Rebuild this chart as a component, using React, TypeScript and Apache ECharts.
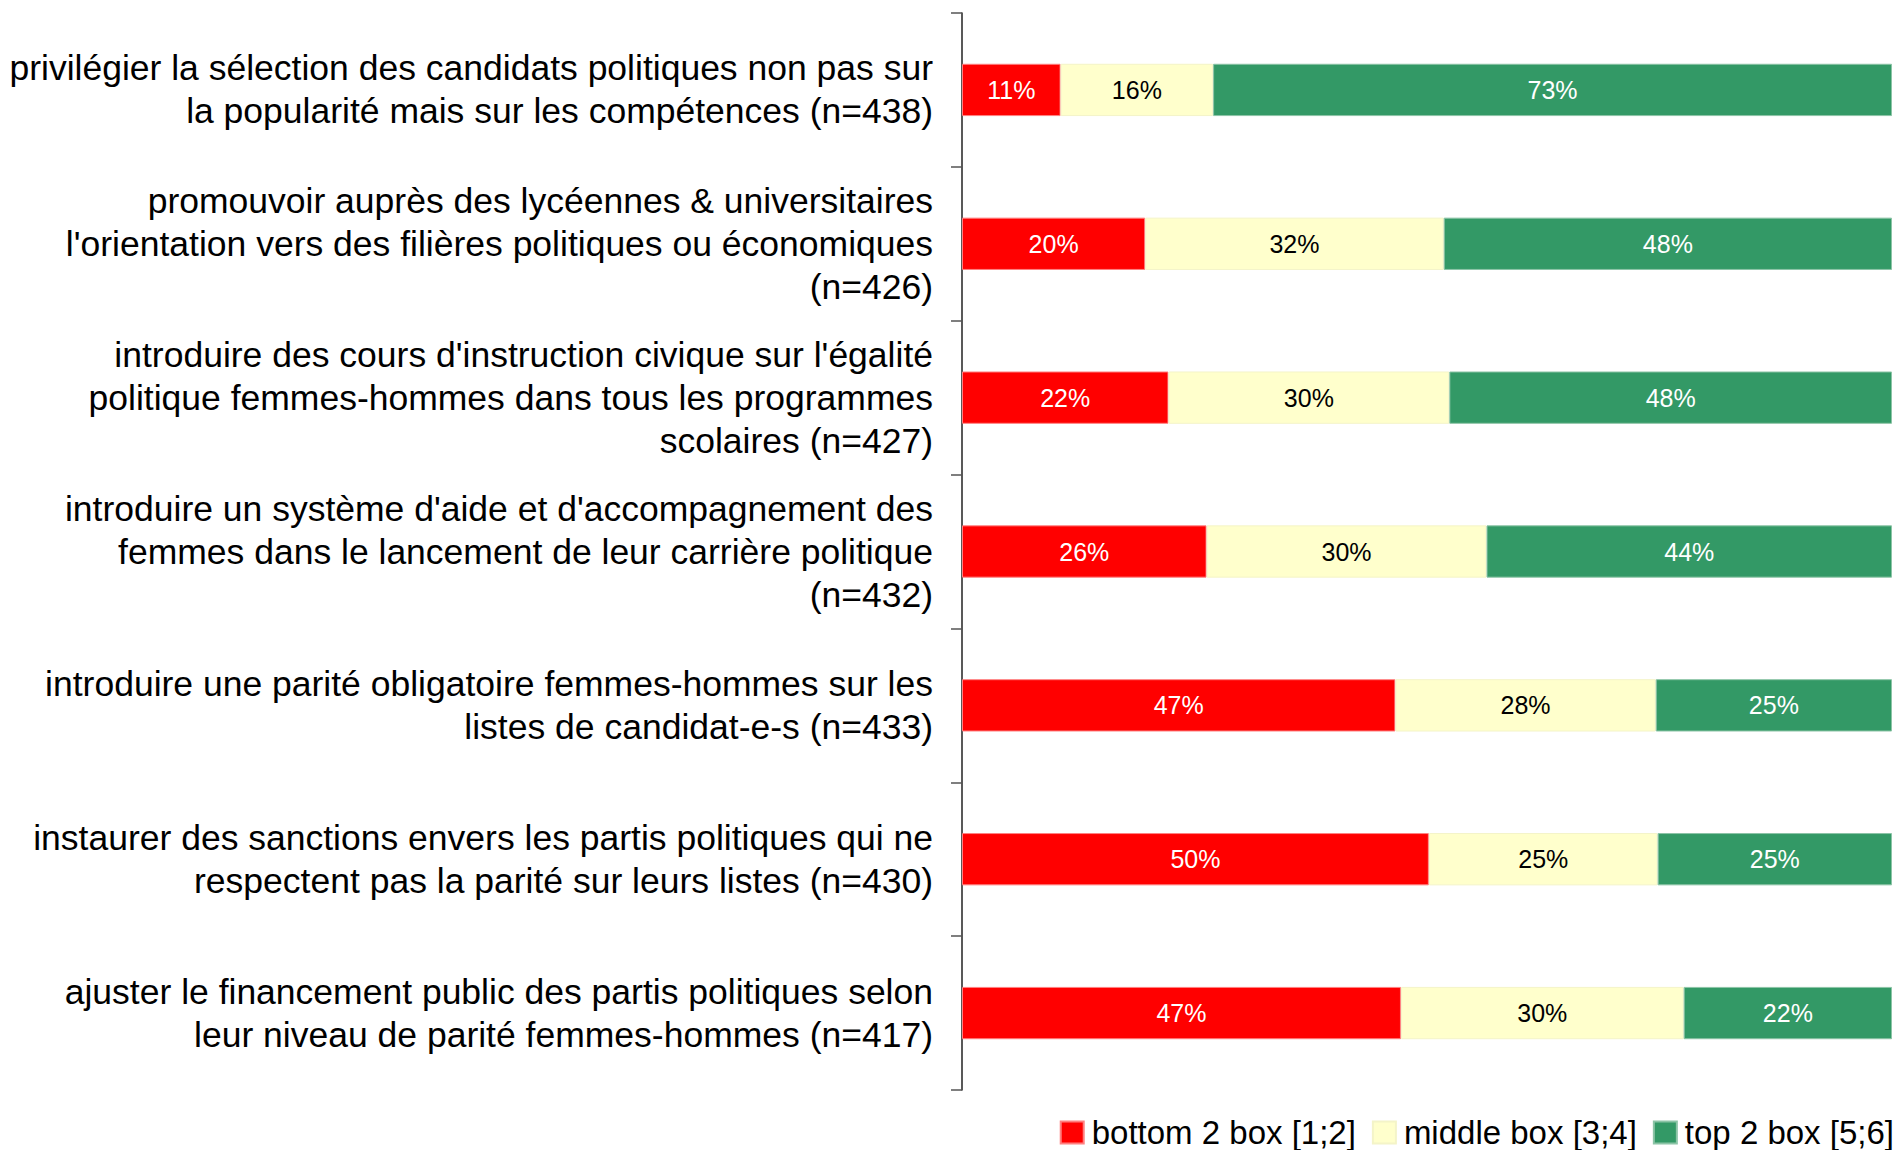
import React, { useEffect, useRef } from "react";
import * as echarts from "echarts";

const categories: string[] = [
  "privilégier la sélection des candidats politiques non pas sur\nla popularité mais sur les compétences (n=438)",
  "promouvoir auprès des lycéennes & universitaires\nl'orientation vers des filières politiques ou économiques\n(n=426)",
  "introduire des cours d'instruction civique sur l'égalité\npolitique femmes-hommes dans tous les programmes\nscolaires (n=427)",
  "introduire un système d'aide et d'accompagnement des\nfemmes dans le lancement de leur carrière politique\n(n=432)",
  "introduire une parité obligatoire femmes-hommes sur les\nlistes de candidat-e-s (n=433)",
  "instaurer des sanctions envers les partis politiques qui ne\nrespectent pas la parité sur leurs listes (n=430)",
  "ajuster le financement public des partis politiques selon\nleur niveau de parité femmes-hommes (n=417)",
];

const seriesNames: string[] = [
  "bottom 2 box [1;2]",
  "middle box [3;4]",
  "top 2 box [5;6]",
];

const bottomBox: number[] = [10.6, 19.7, 22.2, 26.3, 46.6, 50.2, 47.2];
const middleBox: number[] = [16.4, 32.1, 30.2, 30.1, 28.0, 24.6, 30.4];
const topBox: number[] = [73.0, 48.2, 47.6, 43.6, 25.4, 25.2, 22.4];

const colors: string[] = ["#FF0000", "#FFFFCC", "#339966"];
const borderColors: string[] = ["#FF8080", "#F4F4C8", "#8CC4A6"];
const labelColors: string[] = ["#FFFFFF", "#000000", "#FFFFFF"];

const FONT = "'Liberation Sans', Arial, Helvetica, sans-serif";

export default function App() {
  const ref = useRef<HTMLDivElement>(null);

  useEffect(() => {
    if (!ref.current) return;
    const chart = echarts.init(ref.current, undefined, { renderer: "svg" });
    const values = [bottomBox, middleBox, topBox];
    chart.setOption({
      animation: false,
      backgroundColor: "#FFFFFF",
      textStyle: { fontFamily: FONT },
      grid: { left: 962, right: 7, top: 13, bottom: 60, containLabel: false },
      legend: {
        bottom: -4,
        right: 0,
        itemWidth: 23,
        itemHeight: 22,
        itemGap: 16,
        icon: "rect",
        data: seriesNames,
        textStyle: {
          fontFamily: FONT,
          fontSize: 33,
          color: "#000000",
          padding: [0, 0, 0, 3],
        },
      },
      xAxis: {
        type: "value",
        min: 0,
        max: 100,
        show: false,
      },
      yAxis: {
        type: "category",
        inverse: true,
        data: categories,
        axisLine: { show: true, lineStyle: { color: "#222222", width: 1.5 } },
        axisTick: {
          show: true,
          inside: false,
          length: 11,
          lineStyle: { color: "#555555", width: 1.5 },
        },
        splitLine: { show: false },
        axisLabel: {
          margin: 29,
          fontFamily: FONT,
          fontSize: 35.5,
          lineHeight: 43,
          color: "#000000",
          align: "right",
        },
      },
      series: seriesNames.map((name, i) => ({
        name,
        type: "bar",
        stack: "total",
        barCategoryGap: "66%",
        data: values[i],
        itemStyle: {
          color: colors[i],
          borderColor: borderColors[i],
          borderWidth: 1,
        },
        label: {
          show: true,
          position: "inside",
          fontFamily: FONT,
          fontSize: 25,
          color: labelColors[i],
          formatter: (p: any) => Math.round(p.value) + "%",
        },
      })),
    });
    return () => chart.dispose();
  }, []);

  return (
    <div
      ref={ref}
      style={{ position: "absolute", left: 0, top: 0, width: 1899, height: 1150 }}
    />
  );
}
